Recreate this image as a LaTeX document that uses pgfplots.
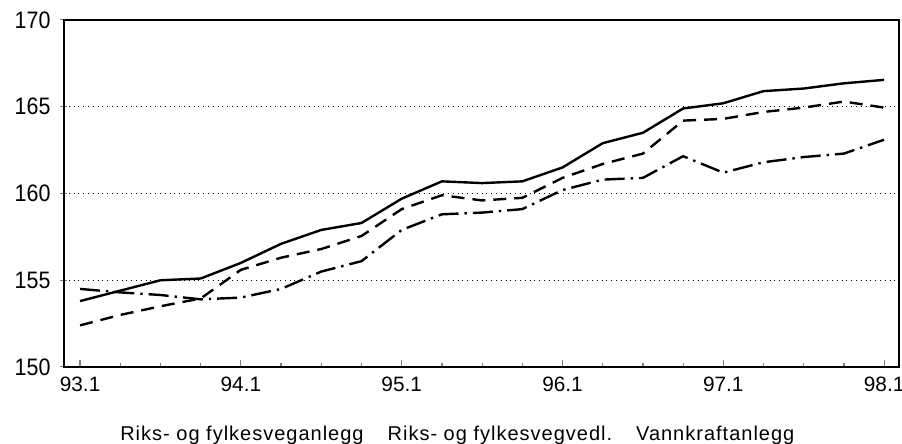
\documentclass[border=0pt]{standalone}
\usepackage{pgfplots}
\pgfplotsset{compat=1.18}
\usepackage{fontspec}
\setmainfont{Liberation Sans}[FakeStretch=0.9]
\newfontfamily\xfont{Liberation Sans}
\newfontfamily\legfont{Liberation Sans}[LetterSpace=5]
\pgfplotstableread{
i solid dashed dashdot
0  153.8 152.4 154.5
1  154.4 153.0 154.3
2  155.0 153.5 154.15
3  155.1 153.95 153.9
4  156.0 155.6 154.0
5  157.1 156.3 154.5
6  157.9 156.8 155.5
7  158.3 157.55 156.1
8  159.7 159.1 157.9
9  160.7 159.9 158.8
10 160.6 159.6 158.9
11 160.7 159.75 159.1
12 161.5 160.9 160.2
13 162.9 161.7 160.8
14 163.5 162.3 160.9
15 164.9 164.2 162.15
16 165.2 164.3 161.2
17 165.9 164.7 161.8
18 166.05 164.95 162.1
19 166.35 165.3 162.3
20 166.55 164.95 163.1
}\datatable
\begin{document}
\begin{tikzpicture}
\useasboundingbox (-32pt,-38.5pt) rectangle (419pt,183.5pt);
\begin{axis}[
  scale only axis,
  width=417.5pt, height=173.5pt,
  xmin=-0.4, xmax=20.37,
  ymin=150, ymax=170,
  axis line style={line width=0.7pt},
  xtick={0,4,8,12,16,20},
  xticklabels={93.1,94.1,95.1,96.1,97.1,98.1},
  minor xtick={1,2,3,5,6,7,9,10,11,13,14,15,17,18,19},
  xtick pos=bottom,
  xtick align=inside,
  major tick length=3.5pt,
  minor tick length=2pt,
  ytick={150,155,160,165,170},
  ytick pos=left,
  ytick align=center,
  y tick style={line width=0.5pt},
  x tick style={line width=0.6pt},
  tick label style={/pgf/number format/assume math mode=true},
  x tick label style={font=\xfont\fontsize{10.4}{12}\selectfont, yshift=-1.5pt},
  y tick label style={font=\fontsize{11.9}{13}\selectfont, xshift=-1.5pt},
  grid=none,
  extra y ticks={155,160,165},
  extra y tick labels={},
  extra y tick style={grid=major, major grid style={dotted, line width=0.6pt, black}, major tick length=0pt},
  legend style={draw=none, fill=none, at={(0.055,-0.145)}, anchor=north west,
    font=\legfont\fontsize{10}{12}\selectfont, legend columns=3,
    /tikz/every even column/.append style={column sep=8pt}},
  legend cell align=left,
  legend image code/.code={},
]
\addplot[black, line width=1.2pt] table[x=i, y=solid] {\datatable};
\addlegendentry{Riks- og fylkesveganlegg}
\addplot[black, line width=1.2pt, dash pattern=on 6.5pt off 4pt] table[x=i, y=dashed] {\datatable};
\addlegendentry{Riks- og fylkesvegvedl.}
\addplot[black, line width=1.2pt, dash pattern=on 10pt off 3pt on 1.2pt off 3pt] table[x=i, y=dashdot] {\datatable};
\addlegendentry{Vannkraftanlegg}
\end{axis}
\end{tikzpicture}
\end{document}
